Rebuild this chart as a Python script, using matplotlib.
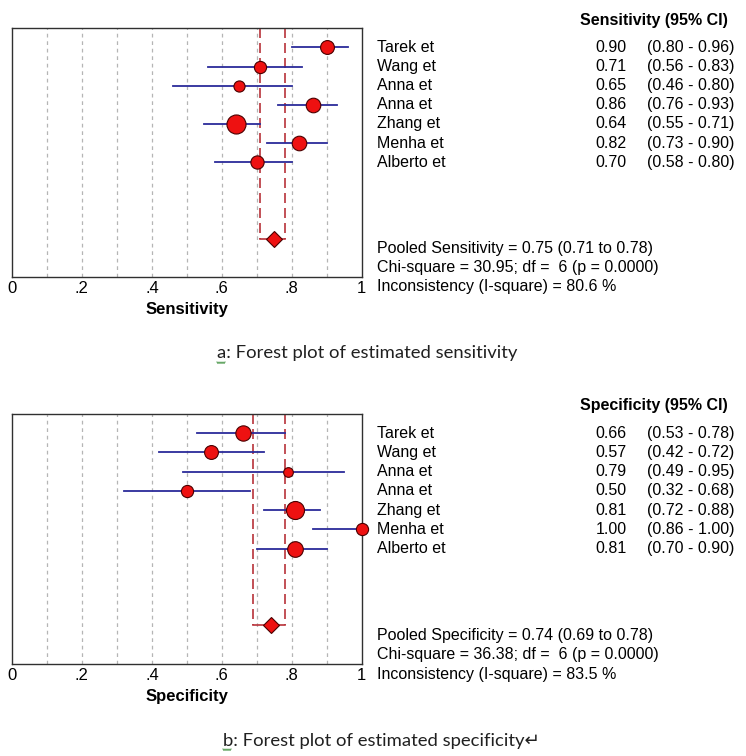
import numpy as np
import matplotlib
matplotlib.use("Agg")
import matplotlib.pyplot as plt
from matplotlib.lines import Line2D

# study data
studies = ["Tarek et", "Wang et", "Anna et", "Anna et", "Zhang et", "Menha et", "Alberto et"]

sens = [0.90, 0.71, 0.65, 0.86, 0.64, 0.82, 0.70]
sens_lo = [0.80, 0.56, 0.46, 0.76, 0.55, 0.73, 0.58]
sens_hi = [0.96, 0.83, 0.80, 0.93, 0.71, 0.90, 0.80]
sens_weight = [13.3, 11.7, 10.7, 14.0, 18.3, 14.0, 12.7]  # relative study weight
sens_pooled = [0.75, 0.71, 0.78]
sens_stats = ["Pooled Sensitivity = 0.75 (0.71 to 0.78)",
              "Chi-square = 30.95; df =  6 (p = 0.0000)",
              "Inconsistency (I-square) = 80.6 %"]

spec = [0.66, 0.57, 0.79, 0.50, 0.81, 1.00, 0.81]
spec_lo = [0.53, 0.42, 0.49, 0.32, 0.72, 0.86, 0.70]
spec_hi = [0.78, 0.72, 0.95, 0.68, 0.88, 1.00, 0.90]
spec_weight = [14.7, 13.3, 9.3, 11.7, 17.3, 11.7, 15.0]
spec_pooled = [0.74, 0.69, 0.78]
spec_stats = ["Pooled Specificity = 0.74 (0.69 to 0.78)",
              "Chi-square = 36.38; df =  6 (p = 0.0000)",
              "Inconsistency (I-square) = 83.5 %"]

ticks = [0, 0.2, 0.4, 0.6, 0.8, 1.0]
tick_labels = ["0", ".2", ".4", ".6", ".8", "1"]

plt.rcParams['font.family'] = ['Liberation Sans', 'DejaVu Sans']

fig = plt.figure(figsize=(7.46, 7.56), dpi=100)

RED = "#ee1111"
EDGE = "#4a0000"
BLUE = "#2b2b9a"
PRED = "#b8323a"


def forest(ax, est, lo, hi, weight, pooled, stats, name):
    n = len(est)
    rows = np.arange(n)
    prow = n + 3
    ax.set_xlim(0, 1)
    ax.set_ylim(12, -1)
    for g in np.arange(0.1, 0.95, 0.1):
        ax.axvline(g, color="#b5b5b5", lw=0.9, ls=(0, (3, 3)), zorder=0)
    # pooled CI bracket
    ax.plot([pooled[1], pooled[1]], [-1, prow], color=PRED, lw=1.2, ls=(0, (6, 3)), zorder=1)
    ax.plot([pooled[2], pooled[2]], [-1, prow], color=PRED, lw=1.2, ls=(0, (6, 3)), zorder=1)
    ax.plot([pooled[1], pooled[2]], [prow, prow], color=PRED, lw=1.2, zorder=1)
    for i in rows:
        ax.plot([lo[i], hi[i]], [i, i], color=BLUE, lw=1.3, zorder=2)
        ax.plot(est[i], i, "o", ms=weight[i] * 0.75, mfc=RED, mec=EDGE, mew=0.8,
                zorder=3, clip_on=False)
    ax.plot(pooled[0], prow, "D", ms=8, mfc=RED, mec=EDGE, mew=0.8, zorder=3)

    ax.set_yticks([])
    ax.set_xticks(ticks)
    ax.set_xticklabels(tick_labels, fontsize=12)
    ax.tick_params(axis="x", length=0, pad=3)
    for s in ax.spines.values():
        s.set_color("#303030")
        s.set_linewidth(1.0)
    ax.set_xlabel(name, fontsize=12, fontweight="bold", labelpad=4)

    # text table on the right
    fs = 11.5
    ax.text(1.623, -1.42, name + " (95% CI)", fontsize=fs, fontweight="bold",
            va="center", ha="left")
    for i in rows:
        ax.text(1.043, i, studies[i], fontsize=fs, va="center", ha="left")
        ax.text(1.757, i, "%.2f" % est[i], fontsize=fs, va="center", ha="right")
        ax.text(1.814, i, "(%.2f - %.2f)" % (lo[i], hi[i]), fontsize=fs,
                va="center", ha="left")
    for k, line in enumerate(stats):
        ax.text(1.043, 10.52 + k * 1.0, line, fontsize=fs, va="center", ha="left")


ax1 = fig.add_axes([0.016, 0.6336, 0.469, 0.329])
forest(ax1, sens, sens_lo, sens_hi, sens_weight, sens_pooled, sens_stats, "Sensitivity")
ax2 = fig.add_axes([0.016, 0.1217, 0.469, 0.331])
forest(ax2, spec, spec_lo, spec_hi, spec_weight, spec_pooled, spec_stats, "Specificity")

cap_font = ["Lato", "DejaVu Sans"]
fig.text(0.291, 0.533, "a: Forest plot of estimated sensitivity", fontsize=13.3,
         family=cap_font, va="center", ha="left", color="#202020")
fig.text(0.299, 0.020, "b: Forest plot of estimated specificity\u21b5", fontsize=13.3,
         family=cap_font, va="center", ha="left", color="#202020")

# spell-check squiggles under the caption letters
for x0, y0 in [(217, 362), (223, 749)]:
    xs = np.linspace(x0, x0 + 8, 9)
    ys = y0 + np.where(np.arange(9) % 2 == 0, 0, 1.5)
    fig.add_artist(Line2D(xs / 746, 1 - ys / 756, color="#5aa05a", lw=0.8))

fig.savefig("out.png", dpi=100)
